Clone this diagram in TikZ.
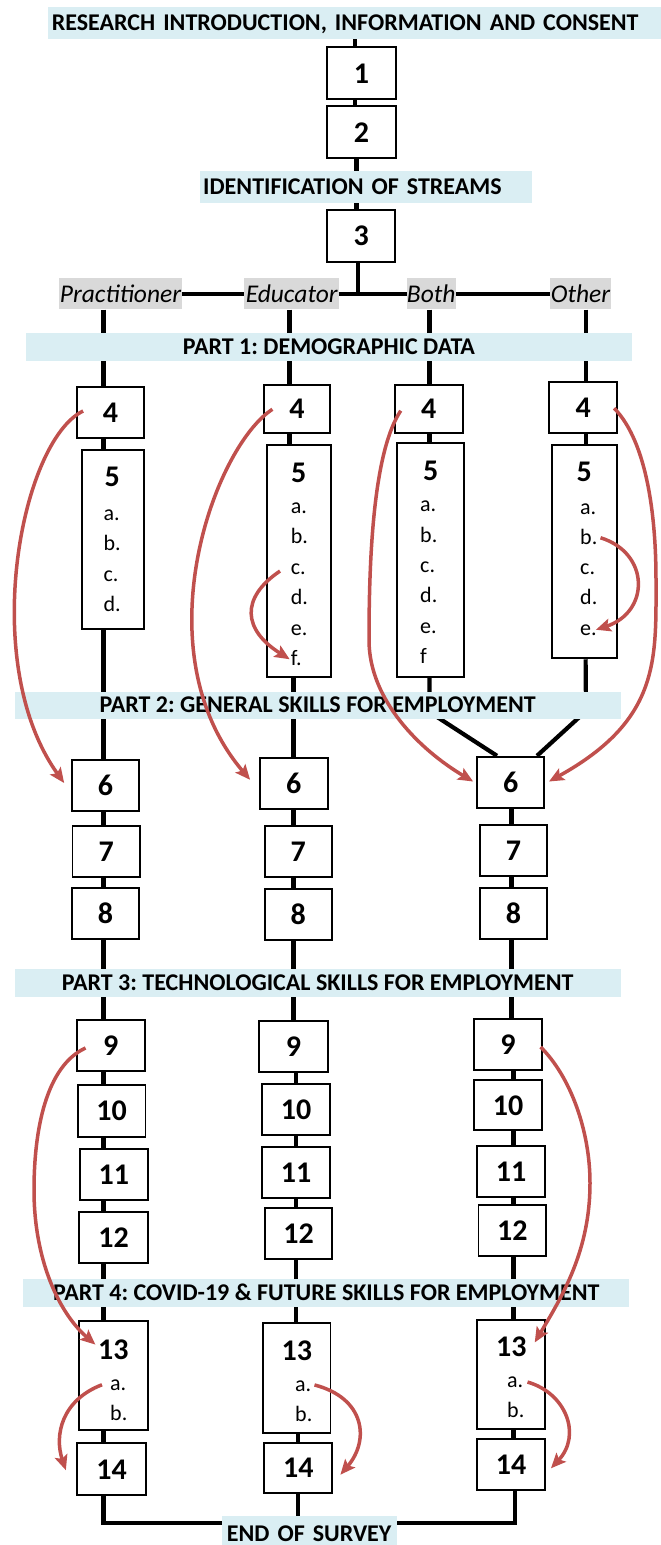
\documentclass[tikz,border=0pt]{standalone}
\usepackage{fontspec}
\setmainfont{Carlito}
\usetikzlibrary{arrows.meta,calc,backgrounds}
\definecolor{bandblue}{RGB}{218,238,243}
\definecolor{labelgray}{RGB}{217,217,217}
\definecolor{arrowred}{RGB}{192,80,77}
\newcommand{\qbx}[5]{\node[qbox,minimum width=#4pt,minimum height=#5pt] (#1) at (#2) {#3};}
\newcommand{\itm}[3]{\node[item] (#1) at (#2) {#3};}
\frenchspacing
\begin{document}
\begin{tikzpicture}[x=1pt,y=-1pt,
  qbox/.style={draw=black,line width=1.8pt,fill=white,inner sep=0pt,
    font=\fontsize{30}{30}\selectfont\bfseries,text height=20pt,text depth=0pt},
  num/.style={inner sep=0pt,font=\fontsize{30}{30}\selectfont\bfseries,anchor=base},
  item/.style={inner sep=0pt,font=\fontsize{22}{22}\selectfont,anchor=base west},
  band/.style={fill=bandblue,inner sep=0pt,font=\fontsize{24}{24}\selectfont\bfseries,
    text height=15.5pt,text depth=0pt},
  stream/.style={fill=labelgray,inner sep=0pt,font=\fontsize{25.5}{25}\selectfont\itshape,
    text height=16.5pt,text depth=0pt,minimum height=31pt},
  conn/.style={line width=4.2pt},
  redarrow/.style={draw=arrowred,line width=3.5pt,
    -{Stealth[length=15pt,width=13pt,inset=3pt]}}]
\useasboundingbox (0,0) rectangle (661,1545);

% ---------- bands ----------
\node[band,anchor=west,minimum height=32pt,text width=614pt,align=left,inner xsep=4pt] (top) at (47.6,23) {\mbox{RESEARCH INTRODUCTION, INFORMATION AND CONSENT}};
\node[band,anchor=west,minimum height=32pt,text width=325pt,align=left,inner xsep=3.6pt] (ident) at (199.4,186.7) {\mbox{IDENTIFICATION OF STREAMS}};
\node[band,minimum width=606pt,minimum height=27.4pt] (part1) at (329,347) {PART 1: DEMOGRAPHIC DATA};
\node[band,minimum width=605.8pt,minimum height=27pt] (part2) at (317.7,705.2) {PART 2: GENERAL SKILLS FOR EMPLOYMENT};
\node[band,minimum width=605.8pt,minimum height=27.4pt] (part3) at (317.7,983) {PART 3: TECHNOLOGICAL SKILLS FOR EMPLOYMENT};
\node[band,minimum width=606.2pt,minimum height=27.4pt] (part4) at (326.3,1293) {PART 4: COVID-19 \& FUTURE SKILLS FOR EMPLOYMENT};
\node[band,anchor=west,minimum height=36pt,text width=165pt,align=left,inner xsep=5.2pt] (endsv) at (221.5,1534) {\mbox{END OF SURVEY}};

% ---------- top boxes ----------
\qbx{b1}{361.5,73.2}{1}{68.4}{51.7}
\qbx{b2}{361.5,132}{2}{68.4}{51.3}
\qbx{b3}{361.3,235.9}{3}{68}{51.7}

% ---------- stream labels ----------
\node[stream,minimum width=123.4pt] (lP) at (120.5,293.8) {Practitioner};
\node[stream,minimum width=94.8pt] (lE) at (291.7,293.8) {Educator};
\node[stream,minimum width=48.9pt] (lB) at (431.2,293.8) {Both};
\node[stream,minimum width=61.3pt] (lO) at (580.5,293.8) {Other};

% ---------- Practitioner ----------
\qbx{p4}{110.5,412.5}{4}{67.6}{51.6}
\qbx{p5}{113,539.7}{}{62.6}{179.3}
\node[num] (p5n) at (112.3,486.7) {5};
\itm{p5a}{103.3,520}{a.}
\itm{p5b}{103.3,550.5}{b.}
\itm{p5c}{103.3,581}{c.}
\itm{p5d}{103.3,611}{d.}
\qbx{p6}{105.4,785.5}{6}{67.3}{51}
\qbx{p7}{106.3,851.7}{7}{67.5}{51.3}
\qbx{p8}{105.4,913.8}{8}{67.3}{51}
\qbx{p9}{110.7,1045.5}{9}{67.9}{51}
\qbx{p10}{111.7,1110.8}{10}{67.4}{51.7}
\qbx{p11}{113.8,1174.7}{11}{67.6}{50.7}
\qbx{p12}{113.5,1237.8}{12}{68.3}{51}
\qbx{p13}{113.5,1375.5}{}{68.4}{109}
\node[num] (p13n) at (113.3,1359.3) {13};
\itm{p13a}{110,1390}{a.}
\itm{p13b}{110,1420}{b.}
\qbx{p14}{111.7,1469.2}{14}{68.7}{51.7}

% ---------- Educator ----------
\qbx{e4}{297,408.8}{4}{66}{47.7}
\qbx{e5}{298.7,560.8}{}{64}{231.7}
\node[num] (e5n) at (298.7,482.7) {5};
\itm{e5a}{290.7,513.3}{a.}
\itm{e5b}{290.7,543.8}{b.}
\itm{e5c}{290.7,574.3}{c.}
\itm{e5d}{290.7,604.8}{d.}
\itm{e5e}{290.7,635.3}{e.}
\itm{e5f}{290.7,665.7}{f.}
\qbx{e6}{293.8,783.8}{6}{67.6}{51}
\qbx{e7}{298.3,851.7}{7}{67}{51.3}
\qbx{e8}{298.3,914.5}{8}{67}{51}
\qbx{e9}{293.5,1046.2}{9}{68.3}{51}
\qbx{e10}{296,1109.5}{10}{67.5}{51}
\qbx{e11}{296,1172.5}{11}{67.5}{51.6}
\qbx{e12}{298.5,1233.8}{12}{67.4}{51}
\qbx{e13}{296.8,1377.7}{}{67.5}{110}
\node[num] (e13n) at (296.8,1360) {13};
\itm{e13a}{295,1391.7}{a.}
\itm{e13b}{295,1421.7}{b.}
\qbx{e14}{298.3,1467.7}{14}{68}{50}

% ---------- Both ----------
\qbx{o4}{428.8,408.9}{4}{67.7}{47.7}
\qbx{o5}{430.7,560.3}{}{66.7}{234}
\node[num] (o5n) at (430.8,480) {5};
\itm{o5a}{420,511.7}{a.}
\itm{o5b}{420,542}{b.}
\itm{o5c}{420,572.3}{c.}
\itm{o5d}{420,602.7}{d.}
\itm{o5e}{420,633}{e.}
\itm{o5f}{420,663.3}{f}

% ---------- Other ----------
\qbx{t4}{583.3,407.2}{4}{68}{51}
\qbx{t5}{584.8,551.7}{}{65}{213.3}
\node[num] (t5n) at (584.3,481.7) {5};
\itm{t5a}{580,514}{a.}
\itm{t5b}{580,544.3}{b.}
\itm{t5c}{580,574.5}{c.}
\itm{t5d}{580,604.8}{d.}
\itm{t5e}{580,635}{e.}

% ---------- merged column ----------
\qbx{c6}{510.7,782.5}{6}{66.7}{51.6}
\qbx{c7}{513.5,850.5}{7}{67.4}{51}
\qbx{c8}{513.5,913.3}{8}{67.4}{51.3}
\qbx{c9}{508,1044.7}{9}{67.4}{50.7}
\qbx{c10}{508,1105}{10}{67.4}{50}
\qbx{c11}{511,1171.2}{11}{67.5}{51}
\qbx{c12}{512.3,1230.5}{12}{67.5}{51}
\qbx{c13}{511,1374.5}{}{67.5}{109}
\node[num] (c13n) at (511.3,1356.7) {13};
\itm{c13a}{507,1387.3}{a.}
\itm{c13b}{507,1417.3}{b.}
\qbx{c14}{511,1464.7}{14}{67.5}{50.7}

% ---------- column coordinates ----------
\coordinate (xT1) at (355,0);
\coordinate (xT2) at (356.5,0);
\coordinate (jn) at (358.3,293.5);
\coordinate (cP) at (103.5,0);
\coordinate (cE1) at (289.5,0);
\coordinate (cE2) at (293.5,0);
\coordinate (cE3) at (296,0);
\coordinate (cE4) at (298,0);
\coordinate (cB) at (429.4,0);
\coordinate (cO) at (585.6,0);
\coordinate (cC1) at (511.5,0);
\coordinate (cC2) at (513.5,0);
\coordinate (cC3) at (515,0);
\coordinate (vL) at (429.4,712);
\coordinate (vR) at (586,711);
\coordinate (vLe) at (497,0);
\coordinate (vRe) at (537,0);
\coordinate (yB) at (300,1523);

% ---------- black connectors ----------
\begin{pgfonlayer}{background}
\draw[conn] (top.south -| xT1) -- (b1.north -| xT1);
\draw[conn] (b1.south -| xT1) -- (b2.north -| xT1);
\draw[conn] (b2.south -| xT2) -- (ident.north -| xT2);
\draw[conn] (ident.south -| xT2) -- (b3.north -| xT2);
\draw[conn] (b3.south -| jn) -- (jn);
\draw[conn] (lP) -- (lO);
% Practitioner
\draw[conn] (lP.south -| cP) -- (p4.north -| cP);
\draw[conn] (p4.south -| cP) -- (p5.north -| cP);
\draw[conn] (p5.south -| cP) -- (p6.north -| cP);
\draw[conn] (p6.south -| cP) -- (p7.north -| cP);
\draw[conn] (p7.south -| cP) -- (p8.north -| cP);
\draw[conn] (p8.south -| cP) -- (p9.north -| cP);
\draw[conn] (p9.south -| cP) -- (p10.north -| cP);
\draw[conn] (p10.south -| cP) -- (p11.north -| cP);
\draw[conn] (p11.south -| cP) -- (p12.north -| cP);
\draw[conn] (p12.south -| cP) -- (p13.north -| cP);
\draw[conn] (p13.south -| cP) -- (p14.north -| cP);
\draw[conn] (p14.south -| cP) |- (yB) -| (c14.south -| cC3);
% Educator
\draw[conn] (lE.south -| cE1) -- (e4.north -| cE1);
\draw[conn] (e4.south -| cE1) -- (e5.north -| cE1);
\draw[conn] (e5.south -| cE2) -- (e6.north -| cE2);
\draw[conn] (e6.south -| cE2) -- (e7.north -| cE2);
\draw[conn] (e7.south -| cE2) -- (e8.north -| cE2);
\draw[conn] (e8.south -| cE2) -- (e9.north -| cE2);
\draw[conn] (e9.south -| cE3) -- (e10.north -| cE3);
\draw[conn] (e10.south -| cE3) -- (e11.north -| cE3);
\draw[conn] (e11.south -| cE3) -- (e12.north -| cE3);
\draw[conn] (e12.south -| cE3) -- (e13.north -| cE3);
\draw[conn] (e13.south -| cE4) -- (e14.north -| cE4);
\draw[conn] (e14.south -| cE4) -- (endsv.north -| cE4);
% Both
\draw[conn] (lB.south -| cB) -- (o4.north -| cB);
\draw[conn] (o4.south -| cB) -- (o5.north -| cB);
\draw[conn] (o5.south -| cB) -- (vL) -- (c6.north -| vLe);
% Other
\draw[conn] (lO.south -| cO) -- (t4.north -| cO);
\draw[conn] (t4.south -| cO) -- (t5.north -| cO);
\draw[conn] (t5.south -| cO) -- (vR) -- (c6.north -| vRe);
% merged column
\draw[conn] (c6.south -| cC1) -- (c7.north -| cC1);
\draw[conn] (c7.south -| cC1) -- (c8.north -| cC1);
\draw[conn] (c8.south -| cC1) -- (c9.north -| cC1);
\draw[conn] (c9.south -| cC2) -- (c10.north -| cC2);
\draw[conn] (c10.south -| cC2) -- (c11.north -| cC2);
\draw[conn] (c11.south -| cC2) -- (c12.north -| cC2);
\draw[conn] (c12.south -| cC2) -- (c13.north -| cC2);
\draw[conn] (c13.south -| cC2) -- (c14.north -| cC2);
\end{pgfonlayer}

% ---------- red arrows ----------
\draw[redarrow] ($(p4.west)+(7.3,-1.5)$) .. controls (21,441) and (-22,663) .. ($(p6.west)+(-6.7,-2.5)$);
\draw[redarrow] ($(e4.west)+(9.3,0.5)$) .. controls (214,447) and (140.5,651) .. ($(e6.west)+(-9,-4)$);
\draw[redarrow] ($(o4.west)+(6.7,1.8)$) .. controls (373,452) and (369,560) .. (369,640) .. controls (369,700) and (420,750) .. ($(c6.west)+(-3.3,-1)$);
\draw[redarrow] ($(t4.east)+(-4,1)$) .. controls (648,443) and (656,520) .. (656,580) .. controls (656,660) and (660,720) .. ($(c6.east)+(4,-1)$);
\draw[redarrow] ($(e5c.west)+(-10.7,2)$) .. controls (240,598) and (243,630) .. ($(e5f.west)+(-1,1)$);
\draw[redarrow] ($(t5b.east)+(3,1)$) .. controls (650,553) and (650,612) .. ($(t5e.east)+(-1,0)$);
\draw[redarrow] ($(p9.west)+(9.7,2.5)$) .. controls (46,1066) and (34,1130) .. (34,1190) .. controls (34,1260) and (59,1313) .. ($(p13n.west)+(-2.5,-5)$);
\draw[redarrow] ($(c9.east)+(-2,2.3)$) .. controls (570,1076) and (590,1130) .. (590,1183) .. controls (590,1250) and (563,1295) .. ($(c13n.east)+(8,-4.5)$);
\draw[redarrow] ($(p13a.west)+(-8,0)$) .. controls (62,1400) and (54,1435) .. ($(p14.west)+(-10.6,1)$);
\draw[redarrow] ($(e13a.east)+(3,-1.5)$) .. controls (365,1398) and (370,1440) .. ($(e14.east)+(7.2,7)$);
\draw[redarrow] ($(c13a.east)+(4,0)$) .. controls (566,1393) and (582,1435) .. ($(c14.east)+(5.3,3.6)$);
\end{tikzpicture}
\end{document}
